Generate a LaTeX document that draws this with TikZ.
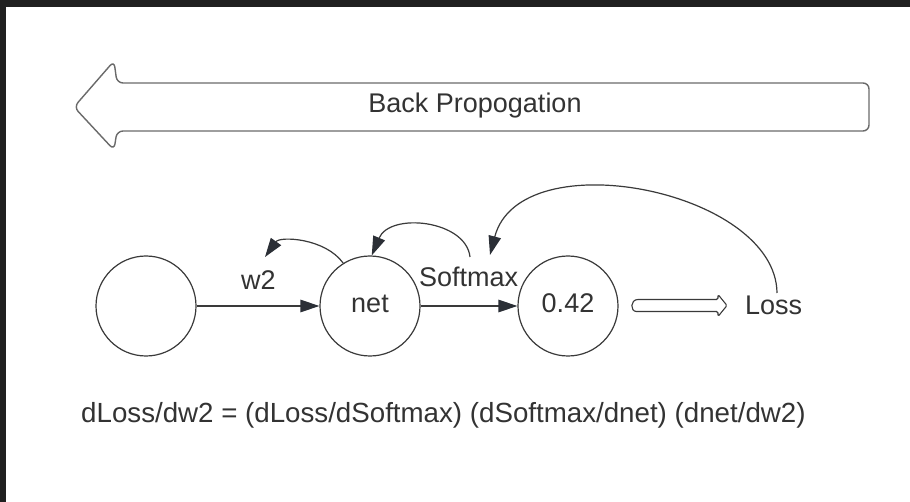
\documentclass[tikz,border=0pt]{standalone}
\usepackage{fontspec}
\setmainfont{Liberation Sans}
\usetikzlibrary{arrows.meta}
\definecolor{framebar}{HTML}{202020}
\definecolor{ink}{HTML}{333333}
\definecolor{edge}{HTML}{3A3A3A}
\definecolor{tipc}{HTML}{2B2F36}
\definecolor{outline}{HTML}{6A6A6A}
\begin{document}
\begin{tikzpicture}[x=1pt,y=-1pt,
  txt/.style={font=\fontsize{27}{32}\selectfont, text=ink, inner sep=0pt},
  neuron/.style={circle, draw=edge, line width=1.2pt, minimum size=100pt,
    inner sep=0pt, txt, text height=14pt, text depth=0pt},
  fwd/.style={draw=edge, line width=1.2pt,
    -{Triangle[length=19pt,width=12.5pt,color=tipc]}},
  back/.style={fwd}]
\useasboundingbox (0,0) rectangle (910,502);
\fill[white] (0,0) rectangle (910,502);
% dark window edges
\fill[framebar] (0,0) rectangle (910,7);
\fill[framebar] (0,0) rectangle (6,502);

% big left-pointing banner arrow
\draw[outline, line width=1.4pt, rounded corners=6pt]
  (117,83) -- (869,83) -- (869,131) -- (117,131) -- (114,150)
  -- (74,107) -- (114,61) -- cycle;
\node[txt, anchor=base] (bp) at (475,113) {Back Propogation};

% neurons
\node[neuron] (in)  at (146,306) {};
\node[neuron] (net) at (370,306) {net};
\node[neuron] (out) at (568,306) {0.42};

% labels
\node[txt, anchor=base west] (w2)   at (241,290) {w2};
\node[txt, anchor=base west] (smx)  at (419,287) {Softmax};
\node[txt, anchor=base west] (loss) at (745,315) {Loss};

% forward connections
\draw[fwd] (in.east) -- (net.west);
\draw[fwd] (net.east) -- (out.west);

% hollow arrow to the loss
\draw[edge, line width=1.1pt, rounded corners=1.5pt]
  (638,299.5) -- (718,299.5) -- (718,294.5) -- (727,305.5) -- (718,316.5)
  -- (718,311.5) -- (638,311.5) [sharp corners]
  .. controls (630,311.5) and (630,299.5) .. (638,299.5) -- cycle;

% backward (gradient) arcs
\coordinate (w2tip)   at (265,257);
\coordinate (smxtop)  at (470,257);
\coordinate (losstop) at (777,293);
\coordinate (smxtip)  at (490,255);
\draw[back] (net.122) .. controls (325,238) and (280,236) .. (w2tip);
\draw[back] (smxtop) .. controls (466,220) and (390,212) .. (net.88);
\draw[back] (losstop) .. controls (776,190) and (520,140) .. (smxtip);

% chain rule
\node[txt, anchor=base west, font=\fontsize{27.7}{32}\selectfont] (chain) at (81,422)
  {dLoss/dw2 = (dLoss/dSoftmax) (dSoftmax/dnet) (dnet/dw2)};
\end{tikzpicture}
\end{document}
